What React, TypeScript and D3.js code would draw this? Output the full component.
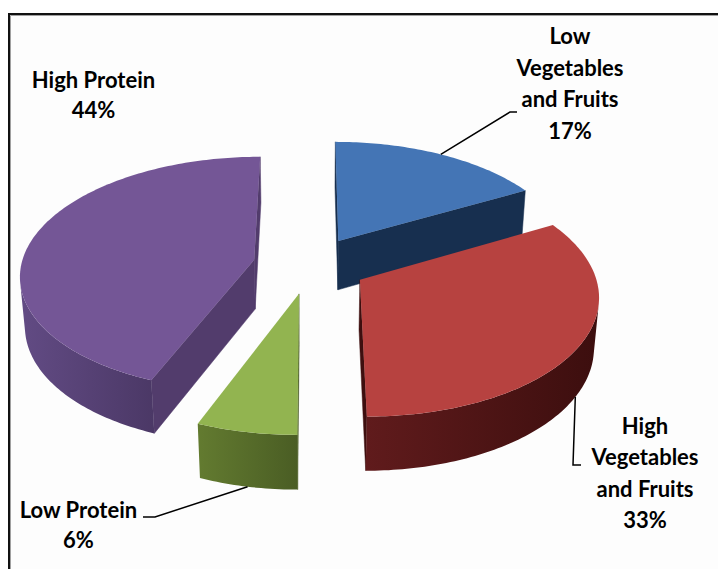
import { useEffect, useRef } from "react";
import * as d3 from "d3";

// slice data, in Excel order (clockwise from 12 o'clock)
const categories = [
  "Low Vegetables and Fruits",
  "High Vegetables and Fruits",
  "Low Protein",
  "High Protein",
];
const values = [17, 33, 6, 44];
const percentLabels = ["17%", "33%", "6%", "44%"];
const nameLines = [
  ["Low", "Vegetables", "and Fruits"],
  ["High", "Vegetables", "and Fruits"],
  ["Low Protein"],
  ["High Protein"],
];

const topColors = ["#4475b5", "#b74240", "#92b450", "#745696"];
const wallLight = ["#1a3354", "#601b1c", "#637b30", "#624b84"];
const wallDark = ["#152b4a", "#3c0e0e", "#4a5d24", "#4b3866"];
const cutColors = ["#172f4f", "#3e0f0f", "#4a5d24", "#523c6c"];

// label placement: centre x, first baseline, leader elbow + end, leader from top or bottom rim
const labelLayout = [
  { x: 570, y: 44, leader: [[510, 112], [517, 112]], rim: "top" },
  { x: 645, y: 433.5, leader: [[573, 465], [581, 465]], rim: "bottom" },
  { x: 78.5, y: 518, leader: [[155, 517], [143, 517]], rim: "bottom" },
  { x: 93.5, y: 88, leader: null, rim: "" },
];

const W = 718;
const H = 569;

type P = [number, number];

const signedArea = (pts: P[]) => {
  let a = 0;
  for (let k = 0; k < pts.length; k++) {
    const [x1, y1] = pts[k];
    const [x2, y2] = pts[(k + 1) % pts.length];
    a += x1 * y2 - x2 * y1;
  }
  return a / 2;
};

export default function App() {
  const svgRef = useRef<SVGSVGElement>(null);

  useEffect(() => {
    const svg = d3.select(svgRef.current);
    svg.selectAll("*").remove();

    // chart area frame
    svg.append("rect").attr("width", W).attr("height", H).attr("fill", "#fff");
    svg
      .append("rect")
      .attr("x", 9)
      .attr("y", 14)
      .attr("width", W)
      .attr("height", H)
      .attr("fill", "#fdfdfd")
      .attr("stroke", "#111")
      .attr("stroke-width", 2);
    svg
      .append("path")
      .attr("d", `M10.5,${H}V15.5H${W}`)
      .attr("fill", "none")
      .attr("stroke", "#a0a0a0");

    // 3D perspective projection of the pie
    const cx = 310;
    const cy = 265;
    const scale = 233;
    const tilt = (30 * Math.PI) / 180;
    const dist = 7.2;
    const thick = 0.25;
    const explode = 0.245;
    const cosT = Math.cos(tilt);
    const sinT = Math.sin(tilt);
    const project = (x: number, y: number, z: number): P => {
      const up = y * cosT + z * sinT;
      const d = z * cosT - y * sinT;
      const s = dist / (dist + d);
      return [cx + scale * s * x, cy - scale * s * up];
    };

    const arcs = d3
      .pie<number>()
      .sort(null)
      .value((d) => d)(values);

    const line = d3.line<P>();
    const defs = svg.append("defs");

    const slices = arcs.map((a, i) => {
      const mid = (a.startAngle + a.endAngle) / 2;
      const ox = explode * Math.sin(mid);
      const oz = explode * Math.cos(mid);
      const pt = (r: number, ang: number, y: number) =>
        project(ox + r * Math.sin(ang), y, oz + r * Math.cos(ang));
      return { i, a, mid, oz, pt };
    });

    // paint far slices first
    const order = [...slices].sort((p, q) => q.oz - p.oz);

    const pieG = svg.append("g");

    order.forEach(({ i, a, pt }) => {
      const g = pieG.append("g").attr("class", "slice").attr("data-name", categories[i]);
      const n = Math.max(8, Math.ceil(((a.endAngle - a.startAngle) * 180) / Math.PI));
      const angles = d3.range(n + 1).map((k) => a.startAngle + ((a.endAngle - a.startAngle) * k) / n);
      const topRim = angles.map((t) => pt(1, t, 0));
      const botRim = angles.map((t) => pt(1, t, -thick));
      const apexT = pt(0, 0, 0);
      const apexB = pt(0, 0, -thick);

      // cut faces
      const startFace: P[] = [apexT, topRim[0], botRim[0], apexB];
      const endFace: P[] = [topRim[n], apexT, apexB, botRim[n]];
      [startFace, endFace].forEach((f) => {
        if (signedArea(f) < 0) {
          g.append("path")
            .attr("d", line(f) + "Z")
            .attr("fill", cutColors[i])
            .attr("stroke", cutColors[i])
            .attr("stroke-width", 0.5);
        }
      });

      // outer wall, only front-facing runs
      const grad = defs
        .append("linearGradient")
        .attr("id", `wall${i}`)
        .attr("x1", 0)
        .attr("x2", 1)
        .attr("y1", 0)
        .attr("y2", 0);
      grad.append("stop").attr("offset", 0).attr("stop-color", wallLight[i]);
      grad.append("stop").attr("offset", 1).attr("stop-color", wallDark[i]);

      let run: number[] = [];
      const flush = () => {
        if (run.length) {
          const k0 = run[0];
          const k1 = run[run.length - 1] + 1;
          const poly = [...topRim.slice(k0, k1 + 1), ...botRim.slice(k0, k1 + 1).reverse()];
          g.append("path")
            .attr("d", line(poly) + "Z")
            .attr("fill", `url(#wall${i})`);
        }
        run = [];
      };
      for (let k = 0; k < n; k++) {
        const q: P[] = [topRim[k], topRim[k + 1], botRim[k + 1], botRim[k]];
        if (signedArea(q) < 0) run.push(k);
        else flush();
      }
      flush();

      // top face
      g.append("path")
        .attr("d", line([apexT, ...topRim]) + "Z")
        .attr("fill", topColors[i]);
    });

    // leader lines
    slices.forEach(({ i, mid, pt }) => {
      const lay = labelLayout[i];
      if (!lay.leader) return;
      const anchor = pt(1, mid, lay.rim === "top" ? 0 : -thick);
      svg
        .append("path")
        .attr("d", line([anchor, ...(lay.leader as P[])]))
        .attr("fill", "none")
        .attr("stroke", "#000")
        .attr("stroke-width", 1.5);
    });

    // data labels
    slices.forEach(({ i }) => {
      const lay = labelLayout[i];
      const lines = [...nameLines[i], percentLabels[i]];
      const t = svg
        .append("text")
        .attr("text-anchor", "middle")
        .attr("font-family", "Lato, 'Open Sans', sans-serif")
        .attr("font-weight", 700)
        .attr("font-size", 22)
        .attr("fill", "#000");
      lines.forEach((s, k) => {
        t.append("tspan")
          .attr("x", lay.x)
          .attr("y", lay.y + k * (lines.length > 2 ? 31.5 : 30))
          .text(s);
      });
    });
  }, []);

  return (
    <svg
      ref={svgRef}
      width={W}
      height={H}
      style={{ position: "absolute", left: 0, top: 0 }}
    />
  );
}
